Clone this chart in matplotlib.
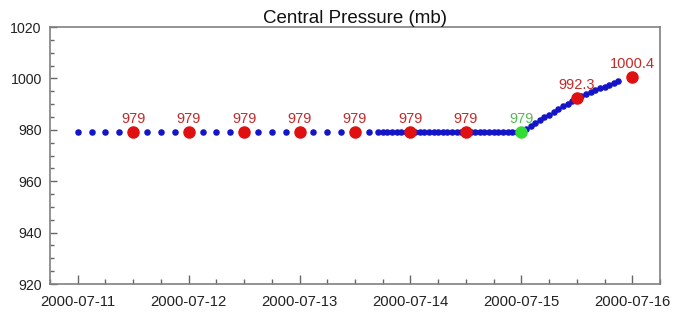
import matplotlib
matplotlib.use('Agg')
import matplotlib.pyplot as plt
import matplotlib.dates as mdates
import pandas as pd
from matplotlib.ticker import MultipleLocator

plt.rcParams['font.family'] = ['Liberation Sans', 'DejaVu Sans']

# ---- data ----
# 3-hourly track points, 2000-07-11 00:00 .. 2000-07-13 15:00
track3_times = pd.date_range('2000-07-11 00:00', '2000-07-13 15:00', freq='3h')
track3_values = [979, 979, 979, 979, 979, 979, 979, 979, 979, 979, 979,
                 979, 979, 979, 979, 979, 979, 979, 979, 979, 979, 979]

# hourly track points, 2000-07-13 17:00 .. 2000-07-15 21:00
track1_times = pd.date_range('2000-07-13 17:00', '2000-07-15 21:00', freq='1h')
track1_values = ([979] * 32 +
                 [980.2, 981.4, 982.5, 983.7, 984.8, 985.9, 987.0, 988.1,
                  989.2, 990.2, 991.3, 992.3, 993.1, 993.9, 994.7, 995.4,
                  996.1, 996.8, 997.5, 998.2, 998.9])

# labelled 12-hourly points
marker_times = pd.to_datetime(['2000-07-11 12:00', '2000-07-12 00:00', '2000-07-12 12:00',
                               '2000-07-13 00:00', '2000-07-13 12:00', '2000-07-14 00:00',
                               '2000-07-14 12:00', '2000-07-15 00:00', '2000-07-15 12:00',
                               '2000-07-16 00:00'])
marker_values = [979, 979, 979, 979, 979, 979, 979, 979, 992.3, 1000.4]
marker_labels = ['979', '979', '979', '979', '979', '979', '979', '979', '992.3', '1000.4']
marker_is_current = [False, False, False, False, False, False, False, True, False, False]

title = 'Central Pressure (mb)'

# ---- figure ----
fig = plt.figure(figsize=(6.78, 3.17), dpi=100)
ax = fig.add_axes([50 / 678, 1 - 284 / 317, 610 / 678, 257 / 317])

blue = '#1414c8'
ax.plot(track3_times, track3_values, linestyle='none', marker='o', ms=3.7,
        color=blue, mec=blue, zorder=2)
ax.plot(track1_times, track1_values, linestyle='none', marker='o', ms=3.7,
        color=blue, mec=blue, zorder=2)

for t, v, lab, cur in zip(marker_times, marker_values, marker_labels, marker_is_current):
    mcol = '#33dd33' if cur else '#e01010'
    tcol = '#55bb55' if cur else '#c42a2a'
    ax.plot([t], [v], linestyle='none', marker='o', ms=8, color=mcol, mec=mcol, zorder=3)
    ax.annotate(lab, (t, v), xytext=(0, 4.5), textcoords='offset points',
                ha='center', va='bottom', color=tcol, fontsize=10.5, zorder=4)

ax.set_xlim(pd.Timestamp('2000-07-10 18:00'), pd.Timestamp('2000-07-16 06:00'))
ax.set_ylim(920, 1020)
ax.yaxis.set_major_locator(MultipleLocator(20))
ax.yaxis.set_minor_locator(MultipleLocator(5))
ax.xaxis.set_major_locator(mdates.DayLocator())
ax.xaxis.set_minor_locator(mdates.HourLocator(byhour=[0, 6, 12, 18]))
ax.xaxis.set_major_formatter(mdates.DateFormatter('%Y-%m-%d'))

for s in ax.spines.values():
    s.set_color('#808080')
    s.set_linewidth(1.2)

ax.tick_params(axis='both', which='both', direction='in', colors='#666666',
               labelcolor='#222222', top=False, right=False)
ax.tick_params(axis='x', which='major', length=6.5, width=1, pad=8, labelsize=10.7)
ax.tick_params(axis='x', which='minor', length=3.5, width=1)
ax.tick_params(axis='y', which='major', length=5, width=1, pad=6, labelsize=10.2)
ax.tick_params(axis='y', which='minor', length=3, width=1)

ax.set_title(title, fontsize=13.5, color='#111111', pad=3)

fig.savefig('out.png', dpi=100)
